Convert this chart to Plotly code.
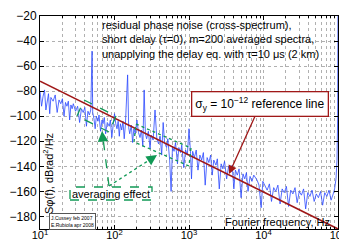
import plotly.graph_objects as go

# ---------------- data ----------------
freq_hz = [10, 10.5, 11, 11.5, 12, 12.5, 13, 13.5, 14, 15, 16, 17, 18, 19, 20, 21, 22, 23, 24, 25,
           26, 27, 28, 30, 32, 34, 36, 38, 40, 42, 44, 46, 48, 50, 51, 53, 55, 57, 60, 62,
           65, 68, 70, 73, 76, 80, 85, 88, 92, 96, 100, 104, 108, 112, 116, 120, 125, 130, 135, 140,
           150, 155, 160, 168, 175, 182, 190, 200, 210, 220, 230, 240, 250, 260, 270, 285, 300, 310, 330, 350,
           370, 390, 410, 430, 450, 470, 500, 520, 550, 575, 600, 630, 660, 700, 730, 770, 800, 850, 900, 950,
           1000, 1050, 1080, 1120, 1180, 1250, 1320, 1400, 1480, 1560, 1650, 1750, 1850, 1950, 2050, 2150, 2300, 2400, 2550, 2700,
           2850, 3000, 3200, 3400, 3600, 3800, 4000, 4200, 4450, 4700, 5000, 5300, 5600, 5900, 6200, 6600, 7000, 7400, 8200, 8700,
           9300, 9800, 10500, 11200, 12000, 12800, 13700, 14600, 15600, 16700, 17800, 19000, 20300, 21700, 23200, 24800, 26500, 28300, 30200, 32300,
           34500, 36800, 39300, 42000, 44800, 47900, 51100, 54600, 58300, 62200, 66400, 70900, 75700, 80800, 86300, 90000, 94000, 97000, 99000, 100000]
s_phi_db = [-80, -92, -84, -79, -95, -86, -82, -98, -85, -88, -83, -97, -87, -90, -86, -100, -89, -92, -88, -103,
            -91, -94, -90, -96, -92, -105, -94, -97, -93, -108, -96, -99, -95, -48, -97, -102, -110, -100, -104, -99,
            -112, -103, -106, -101, -114, -105, -108, -103, -117, -107, -98, -106, -110, -104, -116, -106, -111, -104, -118, -107,
            -67, -109, -114, -107, -121, -110, -114, -103, -113, -117, -111, -124, -79, -114, -118, -112, -126, -115, -119, -95,
            -118, -122, -116, -131, -105, -121, -125, -118, -135, -160, -124, -128, -121, -138, -125, -129, -123, -141, -127, -131,
            -110, -130, -150, -128, -133, -127, -143, -131, -135, -129, -155, -133, -137, -131, -147, -135, -139, -134, -158, -138,
            -142, -136, -150, -140, -144, -139, -158, -143, -147, -142, -165, -146, -150, -145, -160, -148, -152, -147, -151, -155,
            -173, -152, -156, -159, -154, -168, -157, -160, -155, -170, -158, -161, -156, -172, -159, -162, -157, -169, -160, -163,
            -158, -174, -161, -164, -159, -168, -162, -165, -160, -171, -161, -164, -159, -167, -162, -158, -150, -135, -100, -10]

ref_freq_hz = [10, 100000]
ref_db = [-72, -190]

x_tick_vals = [10, 100, 1000, 10000, 100000]
x_tick_text = ["10<sup>1</sup>", "10<sup>2</sup>", "10<sup>3</sup>", "10<sup>4</sup>", "10<sup>5</sup>"]
y_tick_vals = [-180, -160, -140, -120, -100, -80, -60, -40, -20]

# ---------------- layout helpers (pixel -> paper) ----------------
L, R, T, B = 32, 330, 8, 221
def px(x):
    return (x - L) / (R - L)
def py(y):
    return (B - y) / (B - T)

GREEN = "#119955"
DRED = "#a01818"
FONT = "Liberation Sans, Arial, sans-serif"

fig = go.Figure()
fig.add_trace(go.Scatter(x=freq_hz, y=s_phi_db, mode="lines",
                         line=dict(color="#2a48ff", width=0.8), hoverinfo="skip"))
fig.add_trace(go.Scatter(x=ref_freq_hz, y=ref_db, mode="lines",
                         line=dict(color=DRED, width=1.6), hoverinfo="skip"))

minor_vals = [m * 10 ** k for k in range(1, 5) for m in range(2, 10)]

fig.update_xaxes(type="log", range=[1, 5], tickmode="array", tickvals=x_tick_vals, ticktext=x_tick_text,
                 showgrid=True, gridcolor="#b0b0b0", griddash="dot", gridwidth=1,
                 minor=dict(tickmode="array", tickvals=minor_vals, showgrid=True, gridcolor="#b0b0b0",
                            griddash="dot", ticks="inside", ticklen=2, tickcolor="black"),
                 ticks="inside", ticklen=4, tickcolor="black", automargin=False, ticklabelstandoff=-4,
                 showline=True, linecolor="black", linewidth=1, mirror="allticks",
                 zeroline=False, tickfont=dict(family=FONT, size=11, color="black"))
fig.update_yaxes(range=[-190, -20], tickmode="array", tickvals=y_tick_vals,
                 showgrid=True, gridcolor="#b0b0b0", griddash="dot", gridwidth=1,
                 ticks="inside", ticklen=4, tickcolor="black", automargin=False,
                 showline=True, linecolor="black", linewidth=1, mirror="allticks",
                 zeroline=False, tickfont=dict(family=FONT, size=12, color="black"))

shapes = []
def seg(x0, y0, x1, y1, dash, color=GREEN, width=1.3):
    shapes.append(dict(type="line", xref="paper", yref="paper", x0=px(x0), y0=py(y0), x1=px(x1), y1=py(y1),
                       line=dict(color=color, width=width, dash=dash)))

# band 1 (dashed)
b1 = [(76, 92), (108, 108), (101, 124), (69, 108)]
for i in range(4):
    a, b = b1[i], b1[(i + 1) % 4]
    seg(a[0], a[1], b[0], b[1], "dash")
# band 2 (dotted)
b2 = [(128, 116), (183, 140), (181, 158), (126, 134)]
for i in range(4):
    a, b = b2[i], b2[(i + 1) % 4]
    seg(a[0], a[1], b[0], b[1], "dot")
# arrows lines
seg(101, 178, 95, 130, "dash")
seg(101, 178, 143, 151, "dot")
# averaging effect box
shapes.append(dict(type="rect", xref="paper", yref="paper", x0=px(62), x1=px(144), y0=py(192), y1=py(179),
                   line=dict(color=GREEN, width=1.3, dash="dash"), fillcolor="white"))

annotations = []
# arrowheads
annotations.append(dict(xref="paper", yref="paper", x=px(94), y=py(123), ax=1, ay=10, axref="pixel", ayref="pixel",
                        text="", showarrow=True, arrowhead=2, arrowsize=1.4, arrowwidth=1.5, arrowcolor=GREEN))
annotations.append(dict(xref="paper", yref="paper", x=px(149), y=py(147), ax=-9, ay=6, axref="pixel", ayref="pixel",
                        text="", showarrow=True, arrowhead=2, arrowsize=1.4, arrowwidth=1.5, arrowcolor=GREEN))
annotations.append(dict(xref="paper", yref="paper", x=px(103), y=py(185.5), xanchor="center", yanchor="middle",
                        text="averaging effect", showarrow=False, font=dict(family=FONT, size=11, color="black")))
# top text
annotations.append(dict(xref="paper", yref="paper", x=px(92), y=py(9), xanchor="left", yanchor="top", align="left",
                        text="residual phase noise (cross-spectrum),<br>short delay (τ=0), m=200 averaged spectra,<br>"
                             "unapplying the delay eq. with τ=10 μs (2 km)",
                        showarrow=False, font=dict(family=FONT, size=11, color="black")))
# reference line box + arrow
annotations.append(dict(xref="paper", yref="paper", x=px(221), y=py(166), ax=27, ay=-60, axref="pixel", ayref="pixel",
                        text="", showarrow=True, arrowhead=2, arrowsize=1.3, arrowwidth=1.3, arrowcolor=DRED))
annotations.append(dict(xref="paper", yref="paper", x=px(251.5), y=py(95.5), xanchor="center", yanchor="middle",
                        text="σ<sub>y</sub> = 10<sup>−12</sup> reference line", showarrow=False,
                        bgcolor="white", bordercolor=DRED, borderwidth=1.3, borderpad=3,
                        font=dict(family=FONT, size=12, color="black")))
# y label inside
annotations.append(dict(xref="paper", yref="paper", x=px(40), y=py(166), xanchor="center", yanchor="middle",
                        text="Sφ(f), dBrad<sup>2</sup>/Hz", textangle=-90, showarrow=False,
                        font=dict(family=FONT, size=11, color="black")))
# x label inside
annotations.append(dict(xref="paper", yref="paper", x=px(324), y=py(214), xanchor="right", yanchor="middle",
                        text="Fourier frequency, Hz", showarrow=False, font=dict(family=FONT, size=11, color="black")))
# credits box
annotations.append(dict(xref="paper", yref="paper", x=px(64.5), y=py(213.5), xanchor="center", yanchor="middle",
                        text="J.Cussey feb 2007<br>E.Rubiola apr 2008", showarrow=False, align="left",
                        bgcolor="white", bordercolor="#555555", borderwidth=1, borderpad=1,
                        font=dict(family=FONT, size=5, color="black")))

fig.update_layout(width=347, height=241, margin=dict(l=L, r=347 - R, t=T, b=241 - B, autoexpand=False),
                  paper_bgcolor="white", plot_bgcolor="white", showlegend=False,
                  shapes=shapes, annotations=annotations)

fig.write_html("out.html")
